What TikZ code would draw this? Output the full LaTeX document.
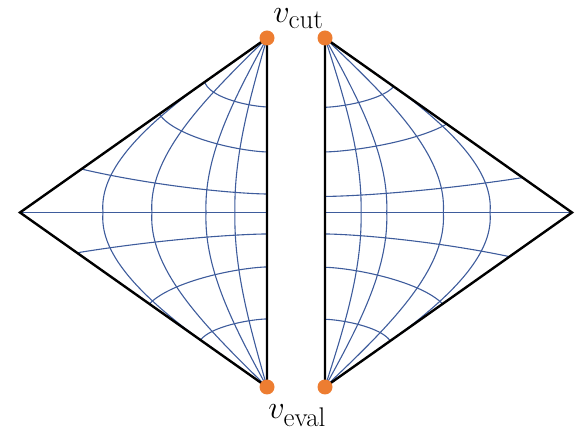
\documentclass[tikz,border=0pt]{standalone}
\definecolor{gridblue}{RGB}{62,92,156}
\definecolor{dotorange}{RGB}{237,125,49}
\tikzset{
  gridline/.style={draw=gridblue, line width=1.1pt, line join=round},
  edgeline/.style={draw=black, line width=2.4pt, line join=miter},
  vdot/.style={circle, fill=dotorange, minimum size=15pt, inner sep=0pt},
  lab/.style={inner sep=0pt, scale=1.3, font=\fontsize{24.88}{30}\selectfont}
}
% vertical family: #1 edge x, #2 direction, #3 bulge fraction
\newcommand\vcurve[3]{%
  \draw[gridline] plot[smooth, domain=-1:1, samples=101, variable=\pv]
    ({#1+(#2)*dd(#3,\pv)}, {212.5+174.5*\pv});}
% horizontal family: #1 edge x, #2 direction, #3 t at edge, #4 t at slanted side
\newcommand\hcurve[4]{%
  \pgfmathsetmacro\hch{1/mm(abs(#4))}%
  \draw[gridline] plot[smooth, domain=0:1, samples=60, variable=\ph]
    ({#1+(#2)*dd(\hch*\ph,(#3)+((#4)-(#3))*\ph*sqrt(\ph))},
     {212.5+174.5*((#3)+((#4)-(#3))*\ph*sqrt(\ph))});}
\begin{document}
\begin{tikzpicture}[x=1pt,y=-1pt,
  declare function={
    mm(\x)=1+0.55*\x*(2-\x);
    rr(\x,\y)=min(1,\x*mm(\y));
    dd(\x,\y)=247*(1-abs(\y))*rr(\x,abs(\y));
  }]
\path[use as bounding box] (0,0) rectangle (581,435);
\coordinate (lT) at (267,38);
\coordinate (lB) at (267,387);
\coordinate (lL) at (20,212.5);
\coordinate (lM) at (267,212.5);
\coordinate (rT) at (325,38);
\coordinate (rB) at (325,387);
\coordinate (rR) at (572,212.5);
\coordinate (rM) at (325,212.5);
% ---------------- left grid ----------------
\vcurve{267}{-1}{0.664}
\vcurve{267}{-1}{0.466}
\vcurve{267}{-1}{0.247}
\vcurve{267}{-1}{0.130}
\hcurve{267}{-1}{-0.605}{-0.748}
\hcurve{267}{-1}{-0.347}{-0.564}
\hcurve{267}{-1}{-0.106}{-0.249}
\draw[gridline] (lL) -- (lM);
\hcurve{267}{-1}{0.123}{0.231}
\hcurve{267}{-1}{0.312}{0.524}
\hcurve{267}{-1}{0.610}{0.731}
% ---------------- right grid ----------------
\vcurve{325}{1}{0.668}
\vcurve{325}{1}{0.479}
\vcurve{325}{1}{0.250}
\vcurve{325}{1}{0.146}
\hcurve{325}{1}{-0.603}{-0.722}
\hcurve{325}{1}{-0.347}{-0.507}
\hcurve{325}{1}{-0.092}{-0.200}
\draw[gridline] (rR) -- (rM);
\hcurve{325}{1}{0.123}{0.253}
\hcurve{325}{1}{0.314}{0.524}
\hcurve{325}{1}{0.612}{0.736}
% ---------------- edges ----------------
\draw[edgeline] (lT) -- (lL) -- (lB) -- cycle;
\draw[edgeline] (rT) -- (rR) -- (rB) -- cycle;
% ---------------- vertices ----------------
\node[vdot] (dlT) at (lT) {};
\node[vdot] (drT) at (rT) {};
\node[vdot] (dlB) at (lB) {};
\node[vdot] (drB) at (rB) {};
\node[lab, anchor=base west] (vcut) at (273,23) {$v_{\mathrm{cut}}$};
\node[lab, anchor=base west] (veval) at (268,419) {$v_{\mathrm{eval}}$};
\end{tikzpicture}
\end{document}
